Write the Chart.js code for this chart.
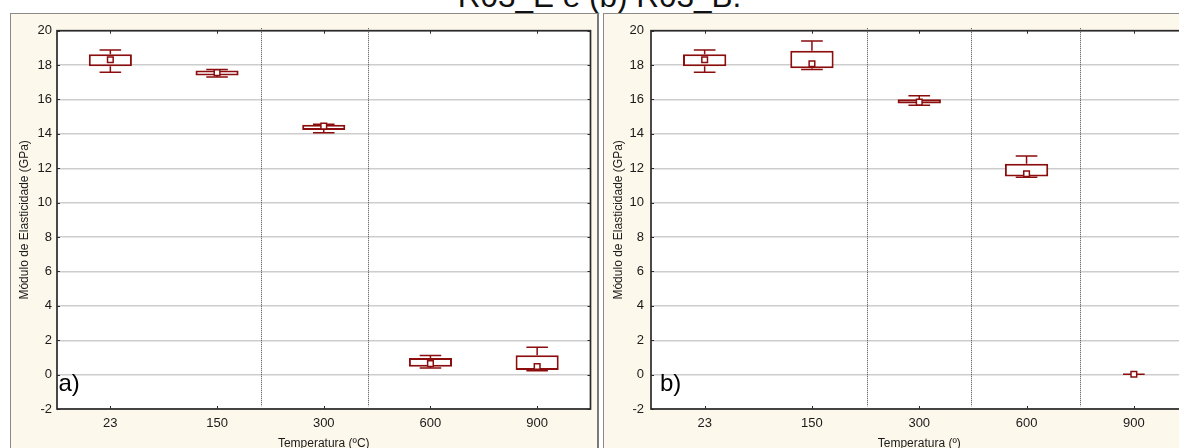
<!DOCTYPE html>
<html><head><meta charset="utf-8">
<script src="https://cdn.jsdelivr.net/npm/chart.js@4.4.1/dist/chart.umd.min.js"></script>
<style>
html,body{margin:0;padding:0;background:#fff;}
body{width:1179px;height:448px;overflow:hidden;position:relative;font-family:'Liberation Sans',Arial,sans-serif;}
.panel{position:absolute;background:#fdf8ec;box-sizing:border-box;}
#pa{left:10px;top:13px;width:589px;height:445px;border:1px solid #8a8a8a;border-right:2px solid #7a7a7a;}
#pb{left:603px;top:13px;width:600px;height:445px;border:1px solid #8a8a8a;}
canvas{position:absolute;}
#ca{left:12px;top:14px;}
#cb{left:604px;top:14px;}
.lbl{position:absolute;font-size:24px;line-height:24px;color:#000;white-space:nowrap;}
#title{position:absolute;left:0;width:1199px;text-align:center;top:-19.5px;font-size:31.5px;line-height:31.5px;white-space:nowrap;color:#111;}
</style>
</head>
<body>
<div id="title">R03_E e (b) R03_B.</div>
<div class="panel" id="pa"></div>
<div class="panel" id="pb"></div>
<canvas id="ca" width="584" height="445"></canvas>
<canvas id="cb" width="600" height="445"></canvas>
<div class="lbl" style="left:58.4px;top:371px;">a)</div>
<div class="lbl" style="left:660px;top:371px;">b)</div>
<script>
// ---- data ----
const categories = ['23', '150', '300', '600', '900'];
const yTicks = [-2, 0, 2, 4, 6, 8, 10, 12, 14, 16, 18, 20];

// panel a)
const aMin  = [17.58, 17.31, 14.06, 0.39, 0.23];
const aQ1   = [17.93, 17.40, 14.22, 0.45, 0.27];
const aQ3   = [18.63, 17.69, 14.53, 0.97, 1.12];
const aMax  = [18.88, 17.75, 14.56, 1.11, 1.59];
const aMean = [18.31, 17.56, 14.45, 0.64, 0.47];
const aDividers = [1.414, 2.414];

// panel b)
const bMin  = [17.58, 17.75, 15.66, 11.48, 0.02];
const bQ1   = [17.93, 17.81, 15.77, 11.52, 0.02];
const bQ3   = [18.63, 18.84, 16.01, 12.26, 0.02];
const bMax  = [18.88, 19.40, 16.22, 12.71, 0.02];
const bMean = [18.31, 18.08, 15.85, 11.68, 0.02];
const bDividers = [1.51, 2.48, 3.5];

const yTitle = 'Módulo de Elasticidade (GPa)';
const xTitleA = 'Temperatura (ºC)';
const xTitleB = 'Temperatura (º)';

// ---- drawing ----
const BOX = '#8b0d0d';
const FONT = "'Liberation Sans', Arial, sans-serif";

function makeChart(id, d, o) {
  const extras = {
    id: 'extras',
    beforeDraw(chart) {
      const {ctx, chartArea: a} = chart;
      ctx.save();
      ctx.fillStyle = '#ffffff';
      ctx.fillRect(a.left, a.top, a.right - a.left, a.bottom - a.top);
      ctx.restore();
    },
    beforeDatasetsDraw(chart) {
      const {ctx, chartArea: a, scales: {x, y}} = chart;
      const step = x.getPixelForValue(1) - x.getPixelForValue(0);
      ctx.save();
      ctx.strokeStyle = '#4a4a4a';
      ctx.lineWidth = 1;
      ctx.setLineDash([1, 1]);
      d.dividers.forEach(v => {
        const px = Math.round(x.getPixelForValue(0) + v * step) + 0.5;
        ctx.beginPath();
        ctx.moveTo(px, a.top - 2.5);
        ctx.lineTo(px, a.bottom - 2.5);
        ctx.stroke();
      });
      ctx.setLineDash([]);
      const meta = chart.getDatasetMeta(1);
      ctx.strokeStyle = BOX;
      ctx.lineWidth = 1.5;
      d.min.forEach((_, i) => {
        const cx = x.getPixelForValue(i);
        const bw = meta.data[i].width;
        const half = bw / 4;
        const pMax = y.getPixelForValue(d.max[i]);
        const pMin = y.getPixelForValue(d.min[i]);
        const pQ3 = y.getPixelForValue(d.q3[i]);
        const pQ1 = y.getPixelForValue(d.q1[i]);
        ctx.beginPath();
        ctx.moveTo(cx, pQ3); ctx.lineTo(cx, pMax);
        ctx.moveTo(cx - half, pMax); ctx.lineTo(cx + half, pMax);
        ctx.moveTo(cx, pQ1); ctx.lineTo(cx, pMin);
        ctx.moveTo(cx - half, pMin); ctx.lineTo(cx + half, pMin);
        ctx.stroke();
      });
      ctx.restore();
    },
    afterDatasetsDraw(chart) {
      const {ctx, chartArea: a, scales: {x, y}} = chart;
      ctx.save();
      ctx.strokeStyle = '#2b2b2b';
      ctx.lineWidth = 1;
      ctx.beginPath();
      categories.forEach((_, i) => {
        const px = Math.round(x.getPixelForValue(i)) + 0.5;
        ctx.moveTo(px, a.top); ctx.lineTo(px, a.top + 3);
        ctx.moveTo(px, a.bottom); ctx.lineTo(px, a.bottom - 3);
      });
      yTicks.forEach(v => {
        const py = Math.round(y.getPixelForValue(v)) + 0.5;
        ctx.moveTo(a.right, py); ctx.lineTo(a.right - 3, py);
        ctx.moveTo(a.left, py); ctx.lineTo(a.left + 3, py);
      });
      ctx.stroke();
      ctx.lineWidth = 1.7;
      ctx.strokeRect(a.left, a.top, a.right - a.left, a.bottom - a.top);
      ctx.restore();
    }
  };

  return new Chart(document.getElementById(id), {
    data: {
      labels: categories,
      datasets: [
        {
          type: 'line',
          data: d.mean,
          showLine: false,
          pointStyle: 'rect',
          pointRadius: 4,
          pointBorderWidth: 1.5,
          borderColor: BOX,
          pointBackgroundColor: '#ffffff',
          order: 0
        },
        {
          type: 'bar',
          data: d.q1.map((v, i) => [v, d.q3[i]]),
          backgroundColor: '#ffffff',
          borderColor: BOX,
          borderWidth: 2,
          borderSkipped: false,
          barPercentage: 0.404,
          categoryPercentage: 1,
          order: 1
        }
      ]
    },
    options: {
      responsive: false,
      animation: false,
      devicePixelRatio: 1,
      layout: {padding: {top: 16.7, right: o.padRight, left: 0, bottom: 0}},
      plugins: {legend: {display: false}, tooltip: {enabled: false}},
      scales: {
        x: {
          type: 'category',
          offset: true,
          grid: {display: false, drawTicks: false},
          border: {display: false},
          ticks: {padding: 7, color: '#1a1a1a', font: {family: FONT, size: 13}, maxRotation: 0},
          title: {display: true, text: d.xTitle, color: '#1a1a1a', font: {family: FONT, size: 12, lineHeight: 1.2}, padding: {top: 0, bottom: 8.4}},
          afterFit(s) { s.height = 50; }
        },
        y: {
          type: 'linear',
          min: -2, max: 20,
          afterBuildTicks(s) { s.ticks = yTicks.map(v => ({value: v})); },
          grid: {color: '#cdcdcd', lineWidth: 1.4, drawTicks: false},
          border: {display: false},
          ticks: {padding: o.labelPad, color: '#1a1a1a', font: {family: FONT, size: 13}},
          title: {display: true, text: yTitle, color: '#1a1a1a', font: {family: FONT, size: 12, lineHeight: 1.2}, padding: {top: o.titlePad, bottom: 0}},
          afterFit(s) { s.width = o.axisWidth; }
        }
      }
    },
    plugins: [extras]
  });
}

makeChart('ca',
  {min: aMin, q1: aQ1, q3: aQ3, max: aMax, mean: aMean, dividers: aDividers, xTitle: xTitleA},
  {padRight: 2.7, axisWidth: 45, labelPad: 5, titlePad: 5.6});
makeChart('cb',
  {min: bMin, q1: bQ1, q3: bQ3, max: bMax, mean: bMean, dividers: bDividers, xTitle: xTitleB},
  {padRight: 16.5, axisWidth: 47, labelPad: 7, titlePad: 7.3});
</script>
</body></html>
